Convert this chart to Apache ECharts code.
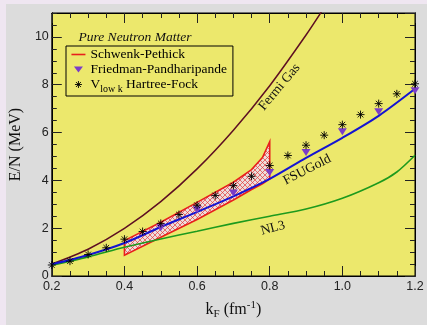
<!DOCTYPE html>
<html>
<head>
<meta charset="utf-8">
<script src="https://cdn.jsdelivr.net/npm/echarts@6/dist/echarts.min.js"></script>
<style>
html, body { margin: 0; padding: 0; background: #efe6f1; }
#panel { position: absolute; left: 6px; top: 4px; width: 421px; height: 321px; background: #dcdcdc; }
#chart { position: absolute; left: 0; top: 0; width: 427px; height: 325px; }
</style>
</head>
<body>
<div id="panel"></div>
<div id="chart"></div>
<script>
// kF (fm^-1) and E/N (MeV)
let fermiK = [0.2, 0.3, 0.4, 0.5, 0.6, 0.7, 0.8, 0.9, 0.95];
let fermiE = [0.50, 1.12, 1.99, 3.11, 4.48, 6.10, 7.96, 10.08, 11.23];

let fsuK = [0.2, 0.3, 0.4, 0.5, 0.6, 0.7, 0.8, 0.9, 1.0, 1.1, 1.2];
let fsuE = [0.49, 0.88, 1.38, 2.05, 2.68, 3.33, 4.06, 4.94, 5.78, 6.70, 7.83];

let nl3K = [0.2, 0.3, 0.4, 0.5, 0.6, 0.7, 0.8, 0.9, 1.0, 1.1, 1.15, 1.2];
let nl3E = [0.45, 0.80, 1.20, 1.55, 1.87, 2.20, 2.50, 2.80, 3.25, 3.90, 4.35, 5.05];

// Schwenk-Pethick band (upper / lower edge)
let bandK = [0.4, 0.5, 0.6, 0.7, 0.75, 0.78, 0.8];
let bandHi = [1.48, 2.25, 3.08, 3.92, 4.45, 4.95, 5.62];
let bandLo = [0.87, 1.62, 2.36, 3.18, 3.62, 3.86, 4.06];

// Friedman-Pandharipande
let fpK = [0.5, 0.6, 0.7, 0.8, 0.9, 1.0, 1.1, 1.2];
let fpE = [2.02, 2.77, 3.47, 4.33, 5.17, 6.03, 6.87, 7.75];

// Vlowk Hartree-Fock
let vlkK = [0.2, 0.25, 0.3, 0.35, 0.4, 0.45, 0.5, 0.55, 0.6, 0.65, 0.7, 0.75, 0.8, 0.85, 0.9, 0.95, 1.0, 1.05, 1.1, 1.15, 1.2];
let vlkE = [0.46, 0.62, 0.90, 1.18, 1.54, 1.86, 2.20, 2.57, 2.96, 3.37, 3.78, 4.17, 4.62, 5.04, 5.47, 5.89, 6.33, 6.75, 7.21, 7.62, 8.04];

function pairs(xs, ys) {
    return xs.map((x, i) => [x, ys[i]]);
}

// cross-hatch fill for the band
let hatch = document.createElement('canvas');
hatch.width = 5;
hatch.height = 5;
let hc = hatch.getContext('2d');
hc.fillStyle = '#ecdedc';
hc.fillRect(0, 0, 5, 5);
hc.strokeStyle = '#e4393b';
hc.lineWidth = 0.7;
hc.beginPath();
hc.moveTo(0, 0); hc.lineTo(5, 5);
hc.moveTo(5, 0); hc.lineTo(0, 5);
hc.stroke();

let serif = '"Liberation Serif", "DejaVu Serif", serif';
let sans = '"Liberation Sans", Arial, sans-serif';
let yellow = '#ece86c';

let starPath = 'path://M0,-4L0,4M-4,0L4,0M-2.8,-2.8L2.8,2.8M-2.8,2.8L2.8,-2.8';
let triPath = 'path://M-4,-3L4,-3L0,3Z';

function tickAxis(extra) {
    return Object.assign({
        type: 'value',
        axisLine: { show: true, onZero: false, lineStyle: { color: '#000', width: 1 } },
        axisTick: { show: true, inside: true, length: 5, lineStyle: { color: '#222' } },
        axisLabel: { show: false },
        splitLine: { show: false }
    }, extra);
}

let ctx = document.getElementById('chart');
let chart = echarts.init(ctx);

let option = {
    animation: false,
    backgroundColor: 'transparent',
    grid: {
        left: 44, right: 12, top: 13, bottom: 42,
        show: true, backgroundColor: yellow, borderColor: '#000', borderWidth: 1
    },
    legend: {
        left: 66, top: 46,
        orient: 'vertical',
        selectedMode: false,
        padding: [1, 6, 2, 5],
        itemGap: 0,
        itemWidth: 14,
        itemHeight: 10,
        backgroundColor: yellow,
        borderColor: '#000',
        borderWidth: 1,
        borderRadius: 0,
        textStyle: {
            fontFamily: serif, fontSize: 13.5, color: '#000', lineHeight: 15,
            rich: {
                v: { fontFamily: serif, fontSize: 13.5, color: '#000', lineHeight: 15 },
                s: { fontFamily: serif, fontSize: 10, color: '#000', padding: [9, 0, 0, 0] }
            }
        },
        formatter: function (name) {
            if (name === 'Vlowk') return '{v|V}{s|low k}{v| Hartree-Fock}';
            return name;
        },
        data: [
            { name: 'Schwenk-Pethick', icon: 'path://M0,0M14,10M0,4.2L14,4.2L14,5.8L0,5.8Z',
              itemStyle: { color: '#e8201c', borderWidth: 0 } },
            { name: 'Friedman-Pandharipande', icon: 'path://M-7,-5M7,5M-4.5,-3L4.5,-3L0,3Z',
              itemStyle: { color: '#7a3cc8', borderWidth: 0 } },
            { name: 'Vlowk', icon: 'path://M-7,-5M7,5M0,-3.5L0,3.5M-3.5,0L3.5,0M-2.5,-2.5L2.5,2.5M-2.5,2.5L2.5,-2.5',
              itemStyle: { color: 'rgba(0,0,0,0)', borderColor: '#000', borderWidth: 0.9 } }
        ]
    },
    xAxis: [
        tickAxis({
            position: 'bottom', min: 0.2, max: 1.2, interval: 0.2,
            axisTick: { show: true, inside: true, length: 10, lineStyle: { color: '#222' } },
            minorTick: { show: true, splitNumber: 4, length: 5, lineStyle: { color: '#222' } },
            axisLabel: {
                show: true, fontFamily: sans, fontSize: 12.5, color: '#222', margin: 4,
                formatter: v => v.toFixed(1)
            },
            name: '{k|k}{f|F} (fm{e|-1})',
            nameLocation: 'middle',
            nameGap: 23,
            nameTextStyle: {
                rich: {
                    k: { fontFamily: serif, fontSize: 16, color: '#111' },
                    f: { fontFamily: serif, fontSize: 11, color: '#111', padding: [10, 0, 0, 0] },
                    e: { fontFamily: serif, fontSize: 11, color: '#111', padding: [0, 0, 9, 0] }
                },
                fontFamily: serif, fontSize: 16, color: '#111'
            }
        }),
        tickAxis({
            position: 'top', min: 0.2, max: 1.2, interval: 0.2,
            axisTick: { show: true, inside: true, length: 10, lineStyle: { color: '#222' } },
            minorTick: { show: true, splitNumber: 4, length: 5, lineStyle: { color: '#222' } }
        })
    ],
    yAxis: [
        tickAxis({
            position: 'left', min: 0, max: 11, interval: 2,
            axisTick: { show: true, inside: true, length: 10, lineStyle: { color: '#222' } },
            axisLabel: { show: true, fontFamily: sans, fontSize: 12.5, color: '#222', margin: 3, showMaxLabel: false },
            name: 'E/N (MeV)',
            nameLocation: 'middle',
            nameGap: 24,
            nameTextStyle: { fontFamily: serif, fontSize: 16, color: '#111' }
        }),
        tickAxis({ position: 'left', min: 0, max: 11, interval: 0.5 }),
        tickAxis({
            position: 'right', min: 0, max: 11, interval: 2,
            axisTick: { show: true, inside: true, length: 10, lineStyle: { color: '#222' } }
        }),
        tickAxis({ position: 'right', min: 0, max: 11, interval: 0.5 })
    ],
    series: [
        {
            name: 'Schwenk-Pethick',
            type: 'custom',
            z: 1,
            itemStyle: { color: '#e8201c' },
            data: [[0.6, 3]],
            renderItem: function (params, api) {
                let pts = [];
                for (let i = 0; i < bandK.length; i++) pts.push(api.coord([bandK[i], bandHi[i]]));
                for (let i = bandK.length - 1; i >= 0; i--) pts.push(api.coord([bandK[i], bandLo[i]]));
                return {
                    type: 'polygon',
                    shape: { points: pts },
                    style: { fill: { image: hatch, repeat: 'repeat' }, stroke: '#e8201c', lineWidth: 1.6, lineJoin: 'miter' }
                };
            }
        },
        {
            name: 'Fermi Gas', type: 'line', showSymbol: false, smooth: 0.3, z: 3,
            lineStyle: { color: '#5e0f22', width: 1.5 },
            data: pairs(fermiK, fermiE)
        },
        {
            name: 'NL3', type: 'line', showSymbol: false, smooth: 0.3, z: 3,
            lineStyle: { color: '#1d9a1d', width: 1.6 },
            data: pairs(nl3K, nl3E)
        },
        {
            name: 'FSUGold', type: 'line', showSymbol: false, smooth: 0.3, z: 3,
            lineStyle: { color: '#1414d2', width: 2 },
            data: pairs(fsuK, fsuE)
        },
        {
            name: 'Friedman-Pandharipande', type: 'scatter', z: 4,
            symbol: triPath, symbolSize: [9, 7],
            itemStyle: { color: '#7a3cc8', opacity: 1 },
            data: pairs(fpK, fpE)
        },
        {
            name: 'Vlowk', type: 'scatter', z: 5,
            symbol: starPath, symbolSize: 8,
            itemStyle: { color: 'rgba(0,0,0,0)', borderColor: '#000', borderWidth: 0.9, opacity: 1 },
            data: pairs(vlkK, vlkE)
        }
    ]
};

chart.setOption(option, true);

// curve labels, anchored in data coordinates
function curveLabel(text, k, e, deg) {
    let p = chart.convertToPixel({ xAxisIndex: 0, yAxisIndex: 0 }, [k, e]);
    return {
        type: 'text', x: p[0], y: p[1], rotation: deg * Math.PI / 180, z: 10,
        style: { text: text, font: '13.5px ' + serif, fill: '#111', align: 'center', verticalAlign: 'middle' }
    };
}

chart.setOption({
    graphic: [
        {
            type: 'text', x: 135, y: 37, z: 10,
            style: { text: 'Pure Neutron Matter', font: 'italic 13.5px ' + serif, fill: '#111', align: 'center', verticalAlign: 'middle' }
        },
        curveLabel('Fermi Gas', 0.827, 7.9, 50),
        curveLabel('FSUGold', 0.903, 4.44, 27),
        curveLabel('NL3', 0.809, 2.0, 15)
    ]
});

window.onresize = () => {
    chart.resize();
};
</script>
</body>
</html>
